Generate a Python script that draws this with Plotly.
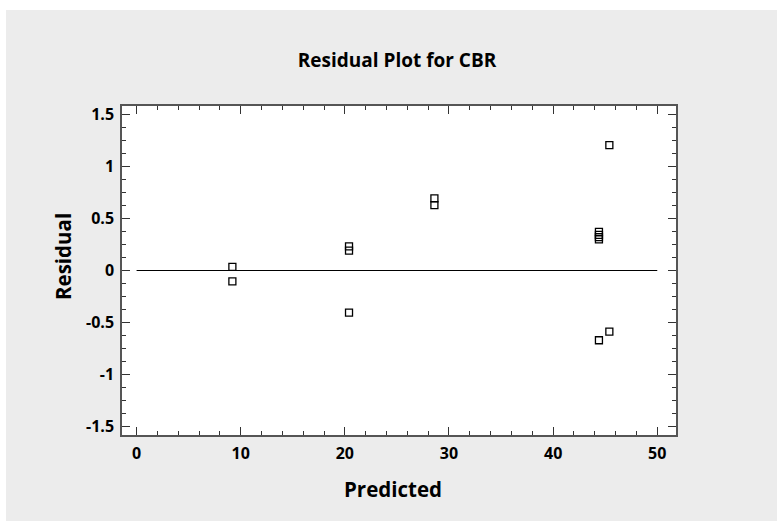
import plotly.graph_objects as go

# Data
predicted = [9.2, 9.2, 20.4, 20.4, 20.4, 28.6, 28.6, 44.4, 44.4, 44.4, 44.4, 44.4, 45.4, 45.4]
residual = [0.035, -0.105, 0.231, 0.19, -0.404, 0.693, 0.628, 0.371, 0.342, 0.32, 0.298, -0.67, 1.205, -0.587]
ref_x = [0, 50]
ref_y = [0, 0]
x_ticks = [0, 10, 20, 30, 40, 50]
y_ticks = [1.5, 1, 0.5, 0, -0.5, -1, -1.5]
y_tick_text = ["1.5", "1", "0.5", "0", "-0.5", "-1", "-1.5"]

FONT = "Open Sans"

fig = go.Figure()
fig.add_trace(go.Scatter(x=ref_x, y=ref_y, mode="lines",
                         line=dict(color="black", width=1.2),
                         hoverinfo="skip", showlegend=False))
fig.add_trace(go.Scatter(x=predicted, y=residual, mode="markers",
                         marker=dict(symbol="square-open", size=7, color="black",
                                     line=dict(width=1.3, color="black")),
                         showlegend=False))

W, H = 777, 521
L, T = 122, 106
PW, PH = 554, 329
R = W - L - PW
B = H - T - PH

def px_x(p):
    return (p - L) / PW

def px_y(p):
    return (T + PH - p) / PH

# white strips at top and left of the grey panel, as in the reference
fig.add_shape(type="rect", xref="paper", yref="paper", layer="below",
              x0=px_x(-5), x1=px_x(W + 5), y0=px_y(10), y1=px_y(-5),
              fillcolor="white", line=dict(width=0))
fig.add_shape(type="rect", xref="paper", yref="paper", layer="below",
              x0=px_x(-5), x1=px_x(6), y0=px_y(H + 5), y1=px_y(-5),
              fillcolor="white", line=dict(width=0))

axis_common = dict(showline=True, linecolor="#555555", linewidth=1.5, mirror="ticks",
                   ticks="inside", ticklen=8, tickwidth=1.2, tickcolor="#333333",
                   showgrid=False, zeroline=False, ticklabelstandoff=3,
                   tickfont=dict(family=FONT, size=16, color="black", weight="bold"))

fig.update_xaxes(range=[-1.4, 51.8], tickvals=x_ticks,
                 minor=dict(dtick=2, ticks="inside", ticklen=4, tickcolor="#333333", showgrid=False),
                 **axis_common)
fig.update_yaxes(range=[-1.58, 1.58], tickvals=y_ticks, ticktext=y_tick_text,
                 minor=dict(dtick=0.125, ticks="inside", ticklen=4, tickcolor="#333333", showgrid=False),
                 **axis_common)

title_font = dict(family=FONT, size=20.5, color="black", weight="bold")
fig.add_annotation(text="Predicted", xref="paper", yref="paper",
                   x=px_x(393), y=px_y(489),
                   xanchor="center", yanchor="middle", showarrow=False, font=title_font)
fig.add_annotation(text="Residual", xref="paper", yref="paper", textangle=-90,
                   x=px_x(63), y=px_y(257),
                   xanchor="center", yanchor="middle", showarrow=False, font=title_font)

fig.update_layout(
    width=W, height=H,
    margin=dict(l=L, r=R, t=T, b=B),
    paper_bgcolor="#ececec", plot_bgcolor="white",
    title=dict(text="Residual Plot for CBR", x=397 / W, xanchor="center",
               y=1 - 60 / H, yanchor="middle",
               font=dict(family=FONT, size=19, color="black", weight="bold")),
)

fig.write_html("out.html", config={"displayModeBar": False},
               post_script=("document.body.style.margin='0';"
                            "document.body.style.overflow='hidden';"
                            "document.documentElement.style.background='#ececec';"
                            "document.body.style.background='#ececec';"))
